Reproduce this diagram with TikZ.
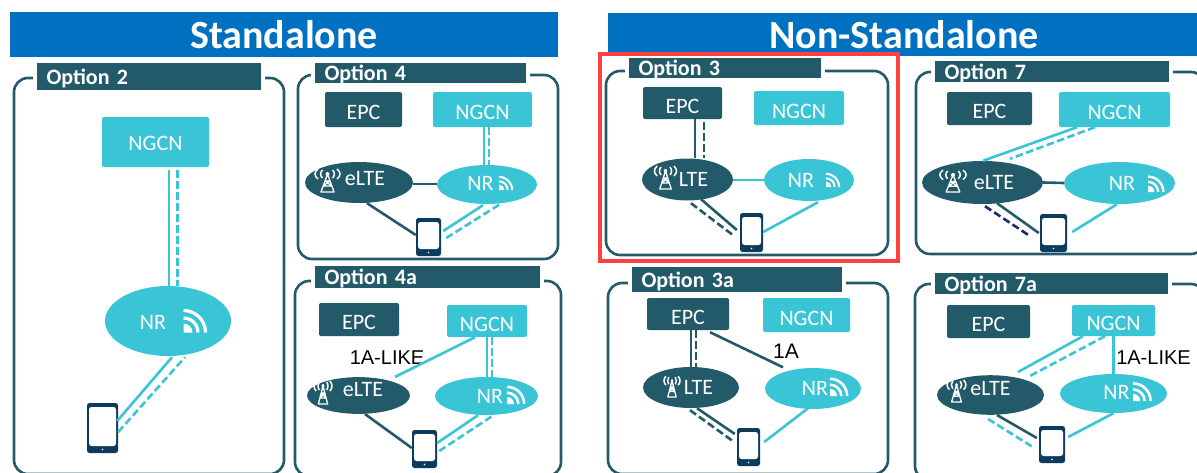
\documentclass[tikz,border=0pt]{standalone}
\usepackage{fontspec}
\setmainfont{Carlito}
\newfontfamily\arialfont{Liberation Sans}
\usetikzlibrary{shapes.geometric}

\definecolor{deepteal}{HTML}{235A69}
\definecolor{cyanblue}{HTML}{3AC5D7}
\definecolor{headblue}{HTML}{0070C0}
\definecolor{phonenavy}{HTML}{0D3B5E}
\definecolor{linknavy}{HTML}{1B2A6B}
\definecolor{framered}{HTML}{FF4040}

\tikzset{
    wifi/.pic={
        \fill[white] (0,0) -- (0,-9) arc[start angle=-90, end angle=0, radius=9] -- cycle;
        \draw[white] (0,-14.5) arc[start angle=-90, end angle=0, radius=14.5];
        \draw[white] (0,-22) arc[start angle=-90, end angle=0, radius=22];
    },
    tower/.pic={
        \draw[white, line width=1.3pt, line join=round]
            (0,-7) -- (-6.5,11) -- (6.5,11) -- cycle
            (-2.3,0) -- (2.3,0) (-4.2,5) -- (4.2,5)
            (-2.3,0) -- (4.2,5) (2.3,0) -- (-4.2,5);
        \fill[white] (0,-7) circle[radius=2];
        \draw[white, line width=1.5pt]
            (-5,-11) .. controls (-7.5,-9) and (-7.5,-5) .. (-5,-3)
            (-9.5,-12) .. controls (-13.5,-9) and (-13.5,-5) .. (-9.5,-2)
            (5,-11) .. controls (7.5,-9) and (7.5,-5) .. (5,-3)
            (9.5,-12) .. controls (13.5,-9) and (13.5,-5) .. (9.5,-2);
    }
}

\begin{document}
\begin{tikzpicture}[
        x=1pt, y=-1pt,
        font=\fontsize{22}{24}\selectfont,
        header/.style={
            fill=headblue, text=white, inner sep=0pt,
            font=\fontsize{40}{44}\selectfont\bfseries
        },
        panel/.style={draw=deepteal, line width=2.6pt, rounded corners=14pt},
        optbar/.style={
            fill=deepteal, draw=white, line width=4pt, text=white,
            inner xsep=11.5pt, inner ysep=0pt, align=left,
            text height=15pt, text depth=0pt,
            font=\fontsize{22}{24}\selectfont\bfseries
        },
        corebox/.style={
            rounded corners=2pt, text=white, inner sep=0pt,
            text height=20pt, text depth=0pt
        },
        epcbox/.style={corebox, fill=deepteal},
        ngcnbox/.style={corebox, fill=cyanblue},
        cell/.style={
            ellipse, text=white, inner sep=0pt,
            text height=14pt, text depth=0pt
        },
        ltecell/.style={cell, fill=deepteal},
        nrcell/.style={cell, fill=cyanblue},
        phone/.style={
            rounded corners=2.5pt, fill=phonenavy, inner sep=0pt,
            path picture={
                \fill[white]
                    ([shift={(2,4)}]path picture bounding box.north west) rectangle
                    ([shift={(-2,-7)}]path picture bounding box.south east);
                \fill[white] ([shift={(0,-3.5)}]path picture bounding box.south) circle[radius=0.8];
            }
        },
        darklink/.style={draw=deepteal, line width=2.6pt},
        lightlink/.style={draw=cyanblue, line width=2.6pt},
        dashlink/.style={dash pattern=on 7.5pt off 3.5pt},
        linklabel/.style={font=\arialfont\fontsize{20}{22}\selectfont, text=black, inner sep=0pt},
        redframe/.style={draw=framered, line width=3.2pt}
    ]
    \useasboundingbox (0,0) rectangle (1197,472);
    \clip (0,0) rectangle (1197,472);

    % Headers
    \node[header, minimum width=548, minimum height=45] (headsa) at (284,34.5) {Standalone};
    \node[header, minimum width=592, minimum height=43] (headnsa) at (904,34.5) {Non-Standalone};

    % Option 2
    \draw[panel] (14,78) rectangle (284,474);
    \node[optbar, text width=205pt, minimum height=31] (opt2) at (149,76.5) {Option 2};
    \node[ngcnbox, minimum width=107, minimum height=50, text height=16pt] (ngcn2) at (155.5,142) {NGCN};
    \node[nrcell, minimum width=126, minimum height=70, text height=17pt] (nr2) at (168,321) {NR\hspace*{30pt}};
    \pic[line width=3.2pt] at (183.5,332.5) {wifi};
    \node[phone, minimum width=31, minimum height=50] (phone2) at (102.5,428) {};
    \draw[lightlink] ([shift={(13.5,3)}]ngcn2.south) -- ([shift={(1,0)}]nr2.north);
    \draw[lightlink, dashlink] ([shift={(22,3)}]ngcn2.south) -- ([shift={(9.5,0)}]nr2.north);
    \draw[lightlink] ([shift={(-1,-7)}]phone2.east) -- ([shift={(4,1)}]nr2.south);
    \draw[lightlink, dashlink] ([shift={(0,4)}]phone2.east) -- ([shift={(17,1)}]nr2.south);

    % Option 4
    \draw[panel] (298,75) rectangle (558,259);
    \node[optbar, text width=192pt, minimum height=24] (opt4) at (420.5,73) {Option 4};
    \node[epcbox, minimum width=77, minimum height=35] (epc4) at (363.5,109.5) {EPC};
    \node[ngcnbox, minimum width=99, minimum height=35] (ngcn4) at (482.5,109.5) {NGCN};
    \node[ltecell, minimum width=108, minimum height=41, text depth=8pt] (elte4) at (359,182.5) {\hspace*{12pt}eLTE};
    \node[nrcell, minimum width=100, minimum height=39, text depth=2pt] (nr4) at (487,184.5) {NR\hspace*{13pt}};
    \pic at (327.5,181) {tower};
    \pic[scale=0.6, line width=2pt] at (499,190) {wifi};
    \node[phone, minimum width=25, minimum height=38] (phone4) at (428.5,237) {};
    \draw[lightlink] ([shift={(1.5,0)}]ngcn4.south) -- ([shift={(-3,0)}]nr4.north);
    \draw[lightlink, dashlink] ([shift={(6.5,0)}]ngcn4.south) -- ([shift={(2,0)}]nr4.north);
    \draw[darklink] ([shift={(0,1.5)}]elte4.east) -- ([shift={(0,-0.5)}]nr4.west);
    \draw[darklink] ([shift={(8,0)}]elte4.south) -- ([shift={(0,-2)}]phone4.west);
    \draw[lightlink] ([shift={(2,-6)}]phone4.east) -- ([shift={(-4,1)}]nr4.south);
    \draw[lightlink, dashlink] ([shift={(5,1)}]phone4.east) -- ([shift={(13,0)}]nr4.south);

    % Option 4a
    \draw[panel] (295,281) rectangle (561,476);
    \node[optbar, text width=206pt, minimum height=26] (opt4a) at (427.5,277) {Option 4a};
    \node[epcbox, minimum width=80, minimum height=33] (epc4a) at (359,319.5) {EPC};
    \node[ngcnbox, minimum width=80, minimum height=32] (ngcn4a) at (487,321) {NGCN};
    \node[ltecell, minimum width=103, minimum height=35, text depth=12pt] (elte4a) at (358.5,395.5) {\hspace*{9pt}eLTE};
    \node[nrcell, minimum width=103, minimum height=38] (nr4a) at (486.5,396) {\hspace*{7pt}NR};
    \pic[xscale=0.72, yscale=1] at (323,393) {tower};
    \pic[scale=0.78, line width=2.6pt] at (507,404) {wifi};
    \node[phone, minimum width=25, minimum height=38] (phone4a) at (424.5,449) {};
    \node[linklabel] (like4a) at (387,358) {1A-LIKE};
    \draw[lightlink] ([shift={(-12,0)}]ngcn4a.south) -- ([shift={(36.5,0)}]elte4a.north);
    \draw[lightlink] (ngcn4a.south) -- ([shift={(0.5,0)}]nr4a.north);
    \draw[lightlink, dashlink] ([shift={(5,0)}]ngcn4a.south) -- ([shift={(5.5,0)}]nr4a.north);
    \draw[darklink] ([shift={(6.5,0)}]elte4a.south) -- ([shift={(0,-1)}]phone4a.west);
    \draw[lightlink] ([shift={(0,-6)}]phone4a.east) -- ([shift={(-8.5,0)}]nr4a.south);
    \draw[lightlink, dashlink] ([shift={(2,2)}]phone4a.east) -- ([shift={(5.5,1)}]nr4a.south);

    % Option 3
    \draw[panel] (606,71) rectangle (888,255);
    \node[optbar, text width=173pt, minimum height=24] (opt3) at (725,68) {Option 3};
    \node[epcbox, minimum width=79, minimum height=32] (epc3) at (682.5,103) {EPC};
    \node[ngcnbox, minimum width=90, minimum height=34] (ngcn3) at (799,108) {NGCN};
    \node[ltecell, minimum width=91, minimum height=42] (lte3) at (687.5,179.5) {\hspace*{12pt}LTE};
    \node[nrcell, minimum width=90, minimum height=42] (nr3) at (809,180) {NR\hspace*{16pt}};
    \pic[xscale=0.88, yscale=1] at (665.5,178) {tower};
    \pic[scale=0.6, line width=2pt] at (826,187) {wifi};
    \node[phone, minimum width=23, minimum height=39] (phone3) at (751.5,232.5) {};
    \draw[darklink] ([shift={(12.5,0)}]epc3.south) -- ([shift={(7.5,0)}]lte3.north);
    \draw[darklink, dashlink] ([shift={(21.5,3)}]epc3.south) -- ([shift={(16.5,0)}]lte3.north);
    \draw[lightlink] ([shift={(0,0.5)}]lte3.east) -- (nr3.west);
    \draw[darklink] ([shift={(13.5,-1.5)}]lte3.south) -- ([shift={(-3,-2.5)}]phone3.west);
    \draw[darklink, dashlink] ([shift={(3.5,2.5)}]lte3.south) -- ([shift={(-7,2.5)}]phone3.west);
    \draw[lightlink] ([shift={(9,1)}]nr3.south) -- ([shift={(0,-0.5)}]phone3.east);

    % Option 3a
    \draw[panel] (608,283) rectangle (888,474);
    \node[optbar, text width=191pt, minimum height=29] (opt3a) at (737,279.5) {Option 3a};
    \node[epcbox, minimum width=82, minimum height=32] (epc3a) at (688,314) {EPC};
    \node[ngcnbox, minimum width=87, minimum height=34] (ngcn3a) at (806.5,315) {NGCN};
    \node[ltecell, minimum width=96, minimum height=41] (lte3a) at (691,387.5) {\hspace*{15pt}LTE};
    \node[nrcell, minimum width=96, minimum height=41] (nr3a) at (813,388.5) {\hspace*{4pt}NR};
    \pic[xscale=0.64, yscale=0.9] at (672,387) {tower};
    \pic[scale=0.78, line width=2.6pt] at (830,396) {wifi};
    \node[phone, minimum width=23, minimum height=38] (phone3a) at (748.5,447) {};
    \node[linklabel, font=\arialfont\fontsize{21}{23}\selectfont] (one3a) at (786,351) {1A};
    \draw[darklink] ([shift={(3,0)}]epc3a.south) -- (lte3a.north);
    \draw[darklink, dashlink] ([shift={(8,0)}]epc3a.south) -- ([shift={(5,0)}]lte3a.north);
    \draw[darklink] ([shift={(22,2)}]epc3a.south) -- ([shift={(-30,-0.5)}]nr3a.north);
    \draw[darklink] ([shift={(6,0)}]lte3a.south) -- ([shift={(-2,-13)}]phone3a.west);
    \draw[darklink, dashlink] ([shift={(-1,2)}]lte3a.south) -- ([shift={(-4,-6)}]phone3a.west);
    \draw[lightlink] ([shift={(-5,-1)}]nr3a.south) -- ([shift={(4,-5)}]phone3a.east);

    % Option 7
    \draw[panel] (916,72) rectangle (1205,254);
    \node[optbar, text width=215pt, minimum height=25] (opt7) at (1052,71.5) {Option 7};
    \node[epcbox, minimum width=85, minimum height=33] (epc7) at (989.5,108.5) {EPC};
    \node[ngcnbox, minimum width=111, minimum height=35] (ngcn7) at (1114.5,109.5) {NGCN};
    \node[ltecell, minimum width=121, minimum height=43] (elte7) at (982.5,182.5) {\hspace*{23pt}eLTE};
    \node[nrcell, minimum width=111, minimum height=42] (nr7) at (1119.5,183) {\hspace*{5pt}NR};
    \pic[xscale=1.05, yscale=0.95] at (953,181.5) {tower};
    \pic[scale=0.7, line width=2.3pt] at (1148,192) {wifi};
    \node[phone, minimum width=27, minimum height=38] (phone7) at (1053.5,233) {};
    \draw[lightlink] ([shift={(-37.5,0)}]ngcn7.south) -- ([shift={(0.5,0)}]elte7.north);
    \draw[lightlink, dashlink] ([shift={(-19.5,0)}]ngcn7.south) -- ([shift={(27.5,-2)}]elte7.north);
    \draw[darklink] (elte7.east) -- (nr7.west);
    \draw[darklink] ([shift={(14.5,-1)}]elte7.south) -- ([shift={(-1,0)}]phone7.west);
    \draw[draw=linknavy, line width=2.6pt, dashlink] ([shift={(2.5,2)}]elte7.south) -- ([shift={(-10,3)}]phone7.west);
    \draw[lightlink] ([shift={(-2.5,0)}]nr7.south) -- ([shift={(5,-1)}]phone7.east);

    % Option 7a
    \draw[panel] (915,284) rectangle (1205,480);
    \node[optbar, text width=214pt, minimum height=25] (opt7a) at (1051.5,283.5) {Option 7a};
    \node[epcbox, minimum width=83, minimum height=33] (epc7a) at (988.5,321.5) {EPC};
    \node[ngcnbox, minimum width=83, minimum height=31] (ngcn7a) at (1113.5,320.5) {NGCN};
    \node[ltecell, minimum width=107, minimum height=36, text depth=14pt] (elte7a) at (990.5,395) {eLTE};
    \node[nrcell, minimum width=107, minimum height=39, text depth=3pt] (nr7a) at (1113.5,393.5) {\hspace*{6pt}NR};
    \pic[xscale=0.75, yscale=0.95] at (956.5,391.5) {tower};
    \pic[scale=0.8, line width=2.6pt] at (1133,401) {wifi};
    \node[phone, minimum width=26, minimum height=37] (phone7a) at (1052,444.5) {};
    \node[linklabel] (like7a) at (1153.5,358) {1A-LIKE};
    \draw[lightlink] ([shift={(-30.5,0)}]ngcn7a.south) -- ([shift={(27.5,-3)}]elte7a.north);
    \draw[lightlink, dashlink] ([shift={(-8.5,0)}]ngcn7a.south) -- ([shift={(37.5,2)}]elte7a.north);
    \draw[lightlink] (ngcn7a.south) -- (nr7a.north);
    \draw[darklink] ([shift={(6.5,0)}]elte7a.south) -- ([shift={(-2,-6.5)}]phone7a.west);
    \draw[lightlink, dashlink] ([shift={(-2.5,4)}]elte7a.south) -- ([shift={(-6,2.5)}]phone7a.west);
    \draw[lightlink] (nr7a.south) -- ([shift={(3,-7.5)}]phone7a.east);

    % Selection frame
    \draw[redframe] (600,54) rectangle (898,261);

\end{tikzpicture}
\end{document}
